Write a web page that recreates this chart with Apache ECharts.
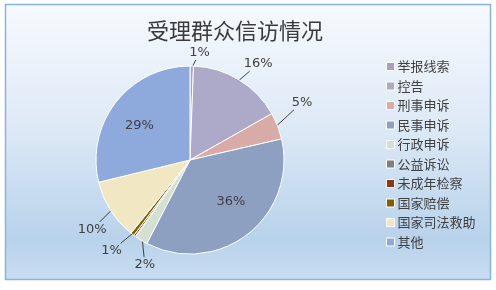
<!DOCTYPE html>
<html>
<head>
<meta charset="utf-8">
<script src="https://cdn.jsdelivr.net/npm/echarts@6/dist/echarts.min.js"></script>
<style>
  html, body { margin: 0; padding: 0; background: #ffffff; }
  #chart { width: 496px; height: 290px; }
</style>
</head>
<body>
<div id="chart"></div>
<script>
// 受理群众信访情况 — share of each petition category (%)
const categories = ['举报线索', '控告', '刑事申诉', '民事申诉', '行政申诉', '公益诉讼', '未成年检察', '国家赔偿', '国家司法救助', '其他'];
const shares = [0.6, 16.2, 4.6, 36.2, 2.2, 0.1, 0.3, 0.6, 10.4, 28.8];
const sliceColors = ['#a9a1c2', '#aca9c9', '#d9aba6', '#8ea0c2', '#d3e1d3', '#7f7f7f', '#8b3a0e', '#7f6000', '#f2e7c3', '#8ea9db'];
// categories whose percentage is written inside the slice
const insideLabelled = ['民事申诉', '其他'];
// categories too small to carry a label
const unlabelled = ['公益诉讼', '未成年检察'];

const CX = 190, CY = 160, R = 94;
// label placement: angular nudge (deg, clockwise) and distance of the label centre from the pie centre
const labelPlacement = {
  '举报线索': { turn: 4, dist: 108 },
  '控告': { turn: 4, dist: 118 },
  '刑事申诉': { turn: -6, dist: 126 },
  '民事申诉': { turn: -7, dist: 58 },
  '行政申诉': { turn: -8, dist: 114 },
  '国家赔偿': { turn: 3, dist: 120 },
  '国家司法救助': { turn: -3, dist: 120 },
  '其他': { turn: -4, dist: 61 }
};

const chart = echarts.init(document.getElementById('chart'), null, { renderer: 'canvas' });

const data = categories.map((name, i) => {
  const item = { name, value: shares[i], itemStyle: { color: sliceColors[i] } };
  if (unlabelled.includes(name)) {
    item.label = { show: false };
    item.labelLine = { show: false };
  } else if (insideLabelled.includes(name)) {
    item.labelLine = { show: false };
  }
  return item;
});

// Labels sit near their slice; outer ones get a straight leader from the
// rim at the slice's mid-angle to the edge of the label box.
function layoutLabel(p) {
  const name = categories[p.dataIndex];
  const r = p.labelRect;
  const pts = p.labelLinePoints;
  const place = labelPlacement[name];
  if (!pts || !place) return {};
  const rim = pts[0];
  const mid = Math.atan2(rim[0] - CX, -(rim[1] - CY));
  const a = mid + place.turn * Math.PI / 180;
  const cx = CX + Math.sin(a) * place.dist, cy = CY - Math.cos(a) * place.dist;
  const out = { x: cx, y: cy, align: 'center', verticalAlign: 'middle' };
  if (insideLabelled.includes(name)) return out;
  const start = [CX + Math.sin(mid) * (R - 2), CY - Math.cos(mid) * (R - 2)];
  // clip the leader where it meets the label box
  const vx = start[0] - cx, vy = start[1] - cy;
  const hw = r.width / 2 + 1, hh = r.height / 2 + 1;
  const t = Math.min(Math.abs(vx) > 1e-6 ? hw / Math.abs(vx) : Infinity,
                     Math.abs(vy) > 1e-6 ? hh / Math.abs(vy) : Infinity);
  const end = [cx + vx * t, cy + vy * t];
  out.labelLinePoints = [start, end, end];
  return out;
}

chart.setOption({
  animation: false,
  graphic: [{
    type: 'rect',
    silent: true,
    z: -10,
    shape: { x: 5.5, y: 4.5, width: 485, height: 275 },
    style: {
      fill: {
        type: 'linear', x: 0, y: 0, x2: 0, y2: 1,
        colorStops: [
          { offset: 0, color: '#f7fafe' },
          { offset: 0.45, color: '#dde9f6' },
          { offset: 0.85, color: '#b8d2eb' },
          { offset: 1, color: '#c9ddf1' }
        ]
      },
      stroke: '#86b3e3',
      lineWidth: 1.5
    }
  }],
  title: {
    text: '受理群众信访情况',
    left: 142,
    top: 15,
    textStyle: {
      fontFamily: 'Noto Sans CJK SC',
      fontSize: 22,
      fontWeight: 'normal',
      color: '#3a3a3a'
    }
  },
  legend: {
    orient: 'vertical',
    left: 381,
    top: 55,
    itemWidth: 8,
    itemHeight: 8,
    itemGap: 6.5,
    icon: 'rect',
    itemStyle: { borderColor: '#ffffff', borderWidth: 1 },
    textStyle: {
      fontFamily: 'Noto Sans CJK SC',
      fontSize: 13,
      color: '#404040',
      padding: [0, 0, 0, -2]
    },
    data: categories
  },
  series: [{
    type: 'pie',
    center: [CX, CY],
    radius: R,
    startAngle: 90,
    clockwise: true,
    avoidLabelOverlap: false,
    itemStyle: { borderColor: '#ffffff', borderWidth: 1 },
    label: {
      show: true,
      formatter: p => Math.round(p.value) + '%',
      fontFamily: 'DejaVu Sans',
      fontSize: 13,
      color: '#404040'
    },
    labelLine: {
      show: true,
      length: 11,
      length2: 2,
      lineStyle: { color: '#404040', width: 1 }
    },
    labelLayout: layoutLabel,
    data
  }]
});
</script>
</body>
</html>
